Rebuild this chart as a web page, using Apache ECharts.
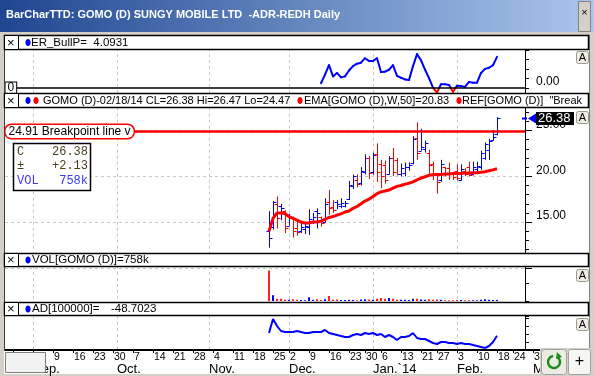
<!DOCTYPE html>
<html>
<head>
<meta charset="utf-8">
<script src="https://cdn.jsdelivr.net/npm/echarts@6/dist/echarts.min.js"></script>
<style>
  html, body { margin: 0; padding: 0; background: #d4d0c8; }
  #chart { width: 594px; height: 376px; }
</style>
</head>
<body>
<div id="chart"></div>
<script>
// ---- calendar (trading days shown on the date axis)
var calStart = '2013-08-22';
var calEnd = '2014-03-05';
var holidays = ['2013-11-28', '2013-12-25', '2014-01-01', '2014-01-20', '2014-02-17'];
var monthNames = ['Jan.', 'Feb.', 'Mar.', 'Apr.', 'May', 'Jun.', 'Jul.', 'Aug.', 'Sep.', 'Oct.', 'Nov.', 'Dec.'];

// ---- GOMO (D) daily bars, first bar on 2013-11-22
var firstDate = '2013-11-22';
var opens  = [14.0, 14.5, 17.0, 16.8, 16.2, 14.6, 15.4, 14.3, 14.0, 14.2, 14.5, 15.0, 16.2, 15.6, 15.0, 17.2, 16.6, 17.2, 16.8, 16.8,
              17.5, 18.9, 19.6, 19.3, 20.5, 22.0, 20.5, 22.4, 21.3, 21.2, 20.3, 22.0, 21.8, 20.2, 20.4, 21.0, 21.5, 24.2, 22.8, 23.0,
              22.5, 21.4, 20.2, 19.6, 21.0, 20.9, 20.3, 20.6, 19.6, 20.6, 21.0, 20.3, 20.8, 21.0, 22.0, 22.9, 24.0, 24.6];
var highs  = [16.2, 17.3, 17.8, 17.0, 16.3, 15.9, 15.6, 15.2, 15.0, 14.8, 16.4, 16.0, 16.5, 15.6, 17.6, 18.5, 17.4, 17.4, 17.6, 17.3,
              19.5, 20.2, 20.2, 21.0, 22.4, 22.2, 22.6, 23.6, 21.8, 21.7, 22.2, 23.1, 22.0, 21.4, 21.5, 21.5, 24.4, 25.9, 25.2, 23.9,
              22.9, 21.6, 20.3, 21.8, 21.0, 21.5, 20.5, 21.3, 21.3, 20.9, 21.6, 21.6, 21.6, 22.8, 23.7, 24.1, 25.0, 26.47];
var lows   = [12.2, 14.2, 14.3, 15.2, 13.8, 14.6, 13.3, 13.5, 13.8, 13.7, 13.6, 14.8, 14.3, 14.5, 15.0, 15.8, 16.0, 16.4, 16.5, 16.6,
              17.4, 18.6, 18.8, 19.0, 20.2, 19.7, 20.2, 19.4, 18.7, 19.2, 20.2, 20.0, 20.1, 20.0, 20.0, 20.6, 21.3, 21.8, 22.8, 22.6,
              20.1, 19.6, 18.1, 19.4, 20.0, 19.6, 19.6, 19.6, 19.5, 20.0, 20.0, 20.1, 20.5, 20.7, 21.8, 21.8, 23.9, 24.47];
var closes = [13.3, 17.2, 15.4, 16.5, 14.4, 15.4, 14.0, 13.9, 14.5, 14.6, 15.3, 15.6, 16.0, 14.9, 17.0, 16.5, 16.3, 17.0, 17.05, 17.1,
              19.0, 20.0, 19.2, 20.6, 22.0, 20.4, 22.3, 20.5, 20.0, 19.6, 22.0, 20.5, 20.3, 20.9, 21.0, 21.2, 24.1, 22.5, 23.2, 23.6,
              21.2, 20.3, 19.4, 21.4, 20.4, 20.2, 19.9, 19.8, 20.8, 20.3, 20.1, 21.0, 21.1, 22.5, 23.5, 23.9, 24.25, 26.38];
// volume in thousands
var volumes = [21000, 4000, 1500, 1500, 800, 900, 1200, 900, 700, 600, 2500, 800, 1200, 700, 1200, 3500, 900, 1000, 700, 700,
               900, 700, 600, 1000, 1200, 1100, 900, 1500, 2000, 1500, 2000, 1500, 900, 800, 800, 700, 1600, 1500, 1000, 800,
               1200, 900, 1000, 800, 600, 600, 500, 700, 700, 500, 600, 500, 500, 800, 1200, 800, 700, 758];
var emaW50 = [14.0, 15.4, 16.0, 16.0, 15.9, 15.6, 15.4, 15.2, 15.0, 14.9, 14.9, 15.0, 15.0, 15.1, 15.3, 15.5, 15.6, 15.75, 15.9, 16.1,
              16.2, 16.5, 16.7, 17.0, 17.3, 17.5, 17.8, 18.1, 18.3, 18.4, 18.5, 18.7, 18.9, 19.0, 19.15, 19.25, 19.4, 19.6, 19.8, 19.95,
              20.1, 20.2, 20.2, 20.2, 20.25, 20.25, 20.3, 20.3, 20.3, 20.35, 20.35, 20.4, 20.4, 20.45, 20.5, 20.6, 20.7, 20.83];
var adLine = [-35, 35, 0, -25, -30, -30, -30, -25, -30, -35, -35, -30, -30, -30, -20, -35, -40, -45, -50, -55,
              -55, -45, -40, -45, -35, -40, -35, -45, -40, -55, -45, -55, -70, -55, -55, -50, -35, -60, -65, -65,
              -75, -85, -90, -80, -80, -85, -85, -90, -85, -90, -90, -95, -100, -105, -110, -100, -80, -48.7023];
// ER_BullP starts later
var erStart = '2013-12-12';
var erBullP = [0.63, 1.76, 3.0, 1.53, 1.98, 1.4, 1.53, 2.3, 2.88, 3.2, 3.33, 3.92, 3.56, 3.56, 3.92, 2.1, 2.15, 2.4, 3.0, 1.6,
               1.35, 1.13, 1.04, 2.88, 4.46, 3.65, 2.43, 1.3, 0.05, -0.6, 0.5, 0.5, 0.4, -0.5, 0.3, 0.25, 0.15, 0.8, 0.7, 0.7,
               1.98, 2.52, 2.66, 3.0, 4.0931];
var breakpoint = 24.91;

// ---- build axes data
function ymd(d) { return d.toISOString().slice(0, 10); }
var axisDates = [];
for (var d = new Date(calStart + 'T00:00:00Z'); ymd(d) <= calEnd; d.setUTCDate(d.getUTCDate() + 1)) {
    var wd = d.getUTCDay();
    if (wd === 0 || wd === 6) continue;
    if (holidays.indexOf(ymd(d)) >= 0) continue;
    axisDates.push(ymd(d));
}
var panelDates = axisDates.slice(0, 131);

function dow(s) { return new Date(s + 'T00:00:00Z').getUTCDay(); }
function isWeekStart(i) { return i > 0 && dow(axisDates[i]) < dow(axisDates[i - 1]); }
function isMonthStart(i) { return i > 0 && axisDates[i].slice(5, 7) !== axisDates[i - 1].slice(5, 7); }

var start = axisDates.indexOf(firstDate);
var erOffset = axisDates.indexOf(erStart);
function spread(arr, off) {
    return panelDates.map(function (dd, i) {
        var k = i - off;
        return (k >= 0 && k < arr.length) ? arr[k] : null;
    });
}

var ohlcData = closes.map(function (c, k) {
    var prev = k > 0 ? closes[k - 1] : -Infinity;
    return [start + k, opens[k], highs[k], lows[k], c, c >= prev ? 1 : 0];
});
var volData = volumes.map(function (v, k) {
    return { value: [start + k, v], itemStyle: { color: closes[k] >= opens[k] ? '#0000ff' : '#ff2020' } };
});
// ER segments: [index, previous value, value]
var erSegs = erBullP.slice(1).map(function (v, k) { return [erOffset + k + 1, erBullP[k], v]; });
var lastIdx = start + closes.length - 1;
var lastClose = closes[closes.length - 1];

var uiFont = '"Liberation Sans", Arial, sans-serif';
var monoFont = '"Liberation Mono", "DejaVu Sans Mono", monospace';

function renderOHLC(params, api) {
    var x = api.value(0);
    var top = api.coord([x, api.value(2)]);
    var bot = api.coord([x, api.value(3)]);
    var po = api.coord([x, api.value(1)]);
    var pc = api.coord([x, api.value(4)]);
    var cx = Math.round(top[0]) + 0.5;
    var color = api.value(5) ? '#0000ff' : '#ff0000';
    var st = { stroke: color, lineWidth: 1 };
    return {
        type: 'group',
        children: [
            { type: 'line', shape: { x1: cx, y1: top[1], x2: cx, y2: bot[1] }, style: st },
            { type: 'line', shape: { x1: cx - 3, y1: Math.round(po[1]) + 0.5, x2: cx, y2: Math.round(po[1]) + 0.5 }, style: st },
            { type: 'line', shape: { x1: cx, y1: Math.round(pc[1]) + 0.5, x2: cx + 3, y2: Math.round(pc[1]) + 0.5 }, style: st }
        ]
    };
}

// blue above zero, red below zero
function renderSignLine(params, api) {
    var i = api.value(0), v0 = api.value(1), v1 = api.value(2);
    var p0 = api.coord([i - 1, v0]);
    var p1 = api.coord([i, v1]);
    var st = function (c) { return { stroke: c, lineWidth: 2, lineCap: 'round' }; };
    if ((v0 >= 0) === (v1 >= 0)) {
        return { type: 'line', shape: { x1: p0[0], y1: p0[1], x2: p1[0], y2: p1[1] }, style: st(v1 >= 0 ? '#0000ff' : '#ff0000') };
    }
    var t = v0 / (v0 - v1);
    var mx = p0[0] + (p1[0] - p0[0]) * t, my = p0[1] + (p1[1] - p0[1]) * t;
    return {
        type: 'group', children: [
            { type: 'line', shape: { x1: p0[0], y1: p0[1], x2: mx, y2: my }, style: st(v0 >= 0 ? '#0000ff' : '#ff0000') },
            { type: 'line', shape: { x1: mx, y1: my, x2: p1[0], y2: p1[1] }, style: st(v1 >= 0 ? '#0000ff' : '#ff0000') }
        ]
    };
}

function renderLastMark(params, api) {
    var p = api.coord([api.value(0), api.value(1)]);
    var ax = params.coordSys.x + params.coordSys.width;
    var y = Math.round(p[1]) + 0.5;
    return {
        type: 'group',
        children: [
            { type: 'line', shape: { x1: ax - 3, y1: y, x2: ax + 2, y2: y }, style: { stroke: '#0000ff', lineWidth: 2 } },
            { type: 'polygon', shape: { points: [[ax + 3, y], [ax + 11, y - 5], [ax + 11, y + 5]] }, style: { fill: '#0000ff' } },
            { type: 'rect', shape: { x: ax + 11, y: y - 6.5, width: 38, height: 13 }, style: { fill: '#000' } },
            { type: 'text', style: { text: api.value(1).toFixed(2), x: ax + 13, y: y, verticalAlign: 'middle', fill: '#fff', font: '13px ' + uiFont } }
        ]
    };
}

var monthGrid = { show: true, interval: function (i) { return isMonthStart(i); }, lineStyle: { color: '#c8c8c8', type: [3, 3], width: 1 } };
function panelX(g) {
    return {
        type: 'category', gridIndex: g, data: panelDates, boundaryGap: false,
        axisLine: { show: false }, axisTick: { show: false }, axisLabel: { show: false },
        splitLine: monthGrid
    };
}
function rightY(g, min, max, interval, extra) {
    var ax = {
        type: 'value', gridIndex: g, position: 'right', min: min, max: max, interval: interval,
        axisLine: { show: true, lineStyle: { color: '#000', width: 1 } },
        axisTick: { show: true, length: 4, lineStyle: { color: '#000' } },
        axisLabel: { show: false },
        splitLine: { show: false }
    };
    for (var k in extra) ax[k] = extra[k];
    return ax;
}

// ---- decorations (window chrome, panel headers)
var Z = 100;
function txt(s, x, y, color, size, extra) {
    var st = { text: s, x: x, y: y, fill: color, font: (size || 11) + 'px ' + uiFont, verticalAlign: 'middle' };
    for (var k in extra) st[k] = extra[k];
    return { type: 'text', z: Z + 1, style: st };
}
function header(y, h) {
    return [
        { type: 'rect', z: Z, shape: { x: 4.5, y: y + 0.5, width: 584, height: h }, style: { fill: '#fff', stroke: '#000', lineWidth: 1.5 } },
        { type: 'rect', z: Z, shape: { x: 4.5, y: y + 0.5, width: 14, height: h }, style: { fill: '#fff', stroke: '#000', lineWidth: 1 } },
        txt('\u00d7', 7, y + h / 2 + 1, '#000', 13)
    ];
}
function dot(cx, cy, color) {
    return { type: 'ellipse', z: Z + 1, shape: { cx: cx, cy: cy, rx: 2.6, ry: 3.6 }, style: { fill: color } };
}
function aButton(y) {
    return [
        { type: 'rect', z: Z, shape: { x: 576.5, y: y + 0.5, width: 12, height: 12, r: 2 }, style: { fill: '#efeee6', stroke: '#9a9a88', lineWidth: 1 } },
        txt('A', 582.5, y + 7, '#000', 11, { align: 'center' })
    ];
}

var graphics = [].concat(
    [
        { type: 'rect', z: -10, shape: { x: 4, y: 35, width: 585, height: 316 }, style: { fill: '#fff' } },
        { type: 'rect', z: -10, shape: { x: 4, y: 350, width: 536, height: 24 }, style: { fill: '#fff' } },
        { type: 'rect', z: Z, shape: { x: 0, y: 0, width: 594, height: 32 },
          style: { fill: new echarts.graphic.LinearGradient(0, 0, 1, 0, [{ offset: 0, color: '#1f4690' }, { offset: 1, color: '#a9c6ec' }]) } },
        txt('BarCharTTD: GOMO (D) SUNGY MOBILE LTD  -ADR-REDH Daily', 6, 15, '#fff', 11, { font: 'bold 11px ' + uiFont }),
        { type: 'rect', z: Z, shape: { x: 578.5, y: 1.5, width: 12, height: 30 }, style: { fill: '#d4d0c8', stroke: '#808080', lineWidth: 1 } },
        txt('\u00d7', 584.5, 13, '#000', 11, { align: 'center' }),
        { type: 'line', z: Z, shape: { x1: 4.5, y1: 35, x2: 4.5, y2: 350 }, style: { stroke: '#404040', lineWidth: 1 } },
        { type: 'line', z: Z, shape: { x1: 589.5, y1: 35, x2: 589.5, y2: 350 }, style: { stroke: '#808080', lineWidth: 1 } }
    ],
    header(35, 14), header(93, 14), header(253, 13), header(302, 13),
    [
        dot(28, 42.5, '#0000ff'),
        txt('ER_BullP=  4.0931', 31, 42.5, '#000', 11.5),
        dot(28, 100.5, '#0000ff'), dot(36, 100.5, '#ff0000'),
        txt('GOMO (D)-02/18/14 CL=26.38 Hi=26.47 Lo=24.47', 43, 100.5, '#000'),
        dot(300, 100.5, '#ff0000'),
        txt('EMA[GOMO (D),W,50]=20.83', 304, 100.5, '#000'),
        dot(459, 100.5, '#ff0000'),
        txt('REF[GOMO (D)]  "Breakpoint line v"', 462, 100.5, '#000', 11, { width: 126, overflow: 'truncate', ellipsis: '' }),
        dot(28, 260, '#0000ff'),
        txt('VOL[GOMO (D)]=758k', 32, 260, '#000', 11.5),
        dot(28, 309, '#0000ff'),
        txt('AD[100000]=', 32, 309, '#000', 11.5),
        txt('-48.7023', 111, 309, '#000', 11.5),
        // info box
        { type: 'rect', z: Z, shape: { x: 13.5, y: 143.5, width: 77, height: 47 }, style: { fill: '#fff', stroke: '#000', lineWidth: 1.5 } },
        txt('C', 17, 151.5, '#4a4020', 12, { font: '12px ' + monoFont }),
        txt('26.38', 88, 151.5, '#4a4020', 12, { font: '12px ' + monoFont, align: 'right' }),
        txt('\u00b1', 17, 166, '#4a4020', 12, { font: '12px ' + monoFont }),
        txt('+2.13', 88, 166, '#4a4020', 12, { font: '12px ' + monoFont, align: 'right' }),
        txt('VOL', 17, 180.5, '#3a3af0', 12, { font: '12px ' + monoFont }),
        txt('758k', 88, 180.5, '#3a3af0', 12, { font: '12px ' + monoFont, align: 'right' }),
        // bottom left box
        { type: 'rect', z: Z, shape: { x: 5.5, y: 352.5, width: 40, height: 20 }, style: { fill: '#f2f2f2', stroke: '#808080', lineWidth: 1 } },
        // bottom right buttons
        { type: 'rect', z: Z, shape: { x: 540, y: 348, width: 54, height: 28 }, style: { fill: '#d4d0c8' } },
        { type: 'rect', z: Z, shape: { x: 541.5, y: 349.5, width: 25, height: 25, r: 3 }, style: { fill: '#ecebe4', stroke: '#a0a0a0', lineWidth: 1 } },
        { type: 'arc', z: Z + 1, shape: { cx: 554, cy: 362, r: 6, startAngle: -Math.PI * 0.35, endAngle: Math.PI * 1.45 }, style: { stroke: '#1b8c1b', lineWidth: 2.5, fill: null } },
        { type: 'polygon', z: Z + 1, shape: { points: [[557, 352], [562, 357], [556, 359]] }, style: { fill: '#1b8c1b' } },
        { type: 'rect', z: Z, shape: { x: 568.5, y: 349.5, width: 22, height: 25, r: 2 }, style: { fill: '#f6f6f2', stroke: '#a0a0a0', lineWidth: 1 } },
        txt('+', 579.5, 362, '#000', 16, { align: 'center' })
    ],
    aButton(51), aButton(111), aButton(269), aButton(318)
);

var option = {
    backgroundColor: '#d4d0c8',
    animation: false,
    textStyle: { fontFamily: uiFont },
    grid: [
        { left: 5, width: 520, top: 48.1, height: 49.4, outerBoundsMode: 'none' },
        { left: 5, width: 520, top: 107.7, height: 160.1, outerBoundsMode: 'none' },
        { left: 5, width: 520, top: 266, height: 35, outerBoundsMode: 'none' },
        { left: 5, width: 520, top: 316, height: 34, outerBoundsMode: 'none' },
        { left: 5, width: 536, top: 349, height: 1, outerBoundsMode: 'none' }
    ],
    xAxis: [
        panelX(0), panelX(1), panelX(2), panelX(3),
        {
            type: 'category', gridIndex: 4, data: axisDates, boundaryGap: false, position: 'bottom',
            axisLine: { show: true, lineStyle: { color: '#000', width: 2 } },
            axisTick: { show: true, interval: function (i) { return isWeekStart(i); }, length: 3, lineStyle: { color: '#000' } },
            axisLabel: {
                interval: function (i) { return isWeekStart(i) && i >= 10; },
                formatter: function (v) { return String(Number(v.slice(8, 10))); },
                align: 'left', margin: 2, fontSize: 10.5, color: '#000', padding: [0, 0, 0, 1]
            },
            splitLine: { show: false }
        },
        {
            type: 'category', gridIndex: 4, data: axisDates, boundaryGap: false, position: 'bottom',
            axisLine: { show: false }, axisTick: { show: false },
            axisLabel: {
                interval: function (i) { return isMonthStart(i); },
                formatter: function (v) {
                    var m = Number(v.slice(5, 7)) - 1;
                    return m === 0 ? monthNames[m] + '`' + v.slice(2, 4) : monthNames[m];
                },
                align: 'left', margin: 13, fontSize: 13, color: '#000'
            },
            splitLine: { show: false }
        }
    ],
    yAxis: [
        rightY(0, -1.25, 5.25, 1.25, {
            axisLabel: { show: true, formatter: function (v) { return v === 0 ? '0.00' : ''; }, margin: 11, verticalAlign: 'bottom', align: 'left', color: '#000', fontSize: 12 }
        }),
        rightY(1, 10, 27.5, 5, {
            axisTick: { show: true, length: 7, lineStyle: { color: '#000' } },
            minorTick: { show: true, splitNumber: 5, length: 4, lineStyle: { color: '#000' } },
            axisLabel: { show: true, formatter: function (v) { return (v % 5 === 0 && v > 10) ? v.toFixed(2) : ''; }, margin: 11, verticalAlign: 'bottom', align: 'left', color: '#000', fontSize: 12 },
            splitLine: { show: true, lineStyle: { color: '#c8c8c8', type: [3, 3] } }
        }),
        rightY(2, 0, 24000, 12000, {}),
        rightY(3, -120, 50, 40, {}),
        { type: 'value', gridIndex: 4, show: false }
    ],
    series: [
        {
            name: 'ER_BullP', type: 'custom', xAxisIndex: 0, yAxisIndex: 0,
            renderItem: renderSignLine, data: erSegs, z: 3
        },
        {
            name: 'ER zero', type: 'line', xAxisIndex: 0, yAxisIndex: 0, data: [], z: 2,
            markLine: { silent: true, symbol: 'none', label: { show: false }, lineStyle: { color: '#000', width: 1.5, type: 'solid' }, data: [{ yAxis: 0 }] },
            markPoint: {
                silent: true, symbol: 'rect', symbolSize: 1, itemStyle: { color: 'rgba(0,0,0,0)' },
                label: { show: true, position: 'right', distance: 0, formatter: '0', color: '#000', fontSize: 12, backgroundColor: '#fff', borderColor: '#000', borderWidth: 1, padding: [0, 2, -1, 2] },
                data: [{ coord: [0, 0] }]
            }
        },
        {
            name: 'GOMO (D)', type: 'custom', xAxisIndex: 1, yAxisIndex: 1,
            renderItem: renderOHLC, data: ohlcData, z: 3
        },
        {
            name: 'EMA', type: 'line', xAxisIndex: 1, yAxisIndex: 1,
            data: spread(emaW50, start), symbol: 'none', color: '#ff0000', lineStyle: { width: 3, color: '#ff0000' }, z: 4,
            markLine: { silent: true, symbol: 'none', label: { show: false }, lineStyle: { color: '#ff0000', width: 2.5, type: 'solid' }, data: [{ yAxis: breakpoint }] },
            markPoint: {
                silent: true, symbol: 'rect', symbolSize: 1, itemStyle: { color: 'rgba(0,0,0,0)' },
                label: {
                    show: true, position: 'right', distance: 0, formatter: breakpoint.toFixed(2) + ' Breakpoint line v',
                    color: '#000', fontSize: 12, backgroundColor: '#fff', borderColor: '#ff0000', borderWidth: 1.5, borderRadius: 6, padding: [1, 3, 0, 3]
                },
                data: [{ coord: [0, breakpoint] }]
            }
        },
        {
            name: 'last', type: 'custom', xAxisIndex: 1, yAxisIndex: 1, clip: false,
            renderItem: renderLastMark, data: [[lastIdx, lastClose]], z: 10
        },
        {
            name: 'VOL', type: 'bar', xAxisIndex: 2, yAxisIndex: 2, barWidth: 2, data: volData
        },
        {
            name: 'AD', type: 'line', xAxisIndex: 3, yAxisIndex: 3,
            data: spread(adLine, start), symbol: 'none', color: '#0000ff', lineStyle: { width: 2, color: '#0000ff' }
        }
    ],
    graphic: { elements: graphics }
};

var chart = echarts.init(document.getElementById('chart'));
chart.setOption(option);
</script>
</body>
</html>
